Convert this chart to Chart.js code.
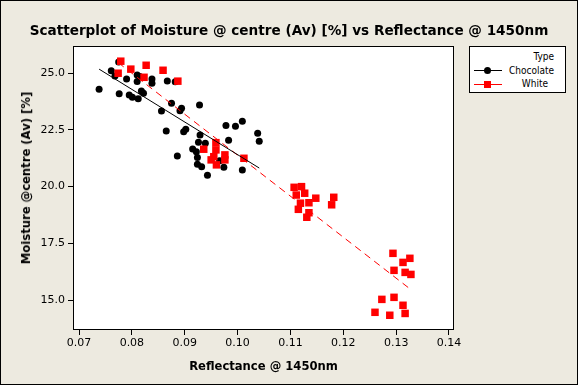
<!DOCTYPE html>
<html>
<head>
<meta charset="utf-8">
<script src="https://cdn.jsdelivr.net/npm/chart.js@4.4.1/dist/chart.umd.min.js"></script>
<style>
  html, body { margin: 0; padding: 0; }
  body { width: 578px; height: 385px; overflow: hidden; font-family: "DejaVu Sans", sans-serif; }
  #frame { position: absolute; left: 0; top: 0; width: 578px; height: 385px; box-sizing: border-box;
           border: 1px solid #000; background: #EDEAE0; }
  #wrap { position: absolute; left: 0; top: 0; width: 578px; height: 385px; }
  #title { position: absolute; left: 0; top: 22px; width: 578px; text-align: center;
           font: bold 13.6px "DejaVu Sans", sans-serif; color: #000; white-space: nowrap; }
  #ytitle { position: absolute; left: 26px; top: 178px; transform: translate(-50%, -50%) rotate(-90deg);
            font: bold 11.6px "DejaVu Sans", sans-serif; color: #000; white-space: nowrap; }
  #legend { position: absolute; left: 469px; top: 46px; width: 97px; height: 47px; box-sizing: border-box;
            border: 1px solid #000; background: #fff; font: 10px "DejaVu Sans Condensed", "DejaVu Sans", sans-serif; color: #000; }
  #legend .txt { position: absolute; line-height: 13px; white-space: nowrap; }
  #legend .ln { position: absolute; left: 4px; width: 28px; height: 0; border-top: 1px solid; }
  #legend .mk { position: absolute; }
</style>
</head>
<body>
<div id="frame"></div>
<div id="wrap"><canvas id="chart"></canvas></div>
<div id="title">Scatterplot of Moisture @ centre (Av) [%] vs Reflectance @ 1450nm</div>
<div id="ytitle">Moisture @centre (Av) [%]</div>
<div id="legend">
  <div class="txt" style="right:11px; top:3px;">Type</div>
  <div class="ln" style="top:23px; border-color:#000;"></div>
  <div class="mk" style="left:14px; top:20px; width:7px; height:7px; border-radius:50%; background:#000;"></div>
  <div class="txt" style="right:11px; top:17px;">Chocolate</div>
  <div class="ln" style="top:37px; border-color:#f00;"></div>
  <div class="mk" style="left:14px; top:34px; width:7px; height:7px; background:#f00;"></div>
  <div class="txt" style="right:17px; top:30px;">White</div>
</div>
<script>
// Reflectance @ 1450nm / Moisture @ centre
const chocX = [0.0775, 0.0761, 0.0768, 0.0790, 0.0810, 0.0810, 0.0815, 0.0838, 0.0838, 0.0867,
  0.0882, 0.0738, 0.0776, 0.0795, 0.0801, 0.0812, 0.0818, 0.0822, 0.0875, 0.0856,
  0.0894, 0.0891, 0.0928, 0.0865, 0.0898, 0.0902, 0.0929, 0.0926, 0.0939, 0.0915,
  0.0922, 0.0924, 0.0886, 0.0924, 0.0932, 0.0978, 0.0996, 0.1009, 0.1038, 0.1041,
  0.0983, 0.0966, 0.0974, 0.0943, 0.1009];
const chocY = [25.49, 25.11, 24.88, 24.75, 24.92, 24.63, 24.85, 24.74, 24.56, 24.66,
  24.62, 24.29, 24.09, 24.04, 23.94, 23.88, 24.22, 24.12, 23.68, 23.34,
  23.46, 23.35, 23.60, 22.45, 22.42, 22.53, 22.28, 21.96, 21.91, 21.66,
  21.54, 21.28, 21.35, 20.99, 20.88, 22.70, 22.66, 22.88, 22.35, 22.00,
  22.04, 21.14, 20.85, 20.50, 20.73];
const whiteX = [0.0779, 0.0774, 0.0798, 0.0827, 0.0823, 0.0859, 0.0887,
  0.0936, 0.0959, 0.0959, 0.0955, 0.0950, 0.0960, 0.0976, 0.0976, 0.1012,
  0.1107, 0.1121, 0.1111, 0.1127, 0.1119, 0.1115, 0.1135, 0.1148, 0.1135, 0.1131, 0.1182, 0.1178,
  0.1294, 0.1313, 0.1326, 0.1296, 0.1317, 0.1328, 0.1273, 0.1296, 0.1313, 0.1260, 0.1288, 0.1317];
const whiteY = [25.53, 25.00, 25.18, 25.35, 24.82, 25.13, 24.65,
  21.65, 21.94, 21.62, 21.32, 21.18, 20.96, 21.40, 21.18, 21.25,
  19.97, 20.00, 19.63, 19.71, 19.27, 19.00, 19.29, 19.49, 18.85, 18.65, 19.53, 19.20,
  17.06, 16.66, 16.84, 16.31, 16.22, 16.13, 15.03, 15.12, 14.77, 14.46, 14.33, 14.41];

// fitted lines (end points)
const chocFitX = [0.0738, 0.1041];
const chocFitY = [25.18, 20.82];
const whiteFitX = [0.0774, 0.1328];
const whiteFitY = [25.47, 15.46];

const xTicks = [0.07, 0.08, 0.09, 0.10, 0.11, 0.12, 0.13, 0.14];
const yTicks = [15.0, 17.5, 20.0, 22.5, 25.0];

const pts = (xs, ys) => xs.map((x, i) => ({ x: x, y: ys[i] }));

const plotBox = {
  id: 'plotBox',
  beforeDatasetsDraw(chart) {
    const a = chart.chartArea, ctx = chart.ctx;
    ctx.save();
    ctx.fillStyle = '#fff';
    ctx.fillRect(a.left, a.top, a.right - a.left, a.bottom - a.top);
    ctx.restore();
  },
  afterDraw(chart) {
    const a = chart.chartArea, ctx = chart.ctx;
    ctx.save();
    ctx.strokeStyle = '#000';
    ctx.lineWidth = 1;
    ctx.strokeRect(Math.round(a.left) + 0.5, Math.round(a.top) + 0.5,
      Math.round(a.right - a.left) - 1, Math.round(a.bottom - a.top) - 1);
    ctx.restore();
  }
};

const font = { family: '"DejaVu Sans", sans-serif', size: 11 };

new Chart(document.getElementById('chart'), {
  type: 'scatter',
  data: {
    datasets: [
      { label: 'Chocolate fit', data: pts(chocFitX, chocFitY), showLine: true, pointRadius: 0,
        borderColor: '#000', borderWidth: 1, order: 0 },
      { label: 'White fit', data: pts(whiteFitX, whiteFitY), showLine: true, pointRadius: 0,
        borderColor: '#f00', borderWidth: 1, borderDash: [7, 5], order: 0 },
      { label: 'White', data: pts(whiteX, whiteY), pointStyle: 'rect', pointRadius: 5.3,
        backgroundColor: '#f00', borderColor: '#f00', borderWidth: 0, order: 1 },
      { label: 'Chocolate', data: pts(chocX, chocY), pointStyle: 'circle', pointRadius: 3.5,
        backgroundColor: '#000', borderColor: '#000', borderWidth: 0, order: 2 }
    ]
  },
  options: {
    responsive: true,
    maintainAspectRatio: false,
    animation: false,
    layout: { padding: { left: 0, top: 46, right: 124, bottom: 0 } },
    plugins: { legend: { display: false }, tooltip: { enabled: false } },
    scales: {
      x: {
        type: 'linear', min: 0.06886, max: 0.14095,
        afterBuildTicks: s => { s.ticks = xTicks.map(v => ({ value: v })); },
        afterFit: s => { s.height = 55; },
        ticks: { font: font, color: '#000', padding: 2, maxRotation: 0, callback: v => v.toFixed(2) },
        grid: { drawOnChartArea: false, drawTicks: true, tickLength: 5, color: '#000' },
        border: { display: false },
        title: { display: true, text: 'Reflectance @ 1450nm', color: '#000',
          font: { family: '"DejaVu Sans", sans-serif', size: 11.6, weight: 'bold' }, padding: { top: 0, bottom: 11 } }
      },
      y: {
        type: 'linear', min: 13.68, max: 26.2,
        afterBuildTicks: s => { s.ticks = yTicks.map(v => ({ value: v })); },
        afterFit: s => { s.width = 73; },
        ticks: { font: font, color: '#000', padding: 3, callback: v => v.toFixed(1) },
        grid: { drawOnChartArea: false, drawTicks: true, tickLength: 5, color: '#000' },
        border: { display: false },
        title: { display: false }
      }
    }
  },
  plugins: [plotBox]
});
</script>
</body>
</html>
